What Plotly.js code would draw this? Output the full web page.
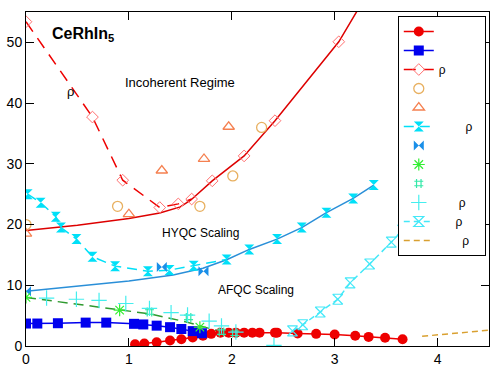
<!DOCTYPE html>
<html>
<head>
<meta charset="utf-8">
<script src="https://cdn.plot.ly/plotly-3.0.1.min.js"></script>
<style>html,body{margin:0;padding:0;background:#fff}#chart{width:500px;height:379px}</style>
</head>
<body>
<div id="chart"></div>
<script>
// ---- data ----
var redCircX = [1.06,1.15,1.27,1.40,1.51,1.62,1.72,1.80,1.89,1.97,2.04,2.12,2.20,2.27,2.42,2.44,2.64,2.82,3.00,3.20,3.33,3.49,3.66];
var redCircY = [0.3,0.4,0.6,0.9,1.1,1.4,1.7,2.0,2.2,2.2,2.2,2.2,2.2,2.2,2.2,2.2,2.05,2.0,1.9,1.7,1.5,1.35,1.1];

var blueSqX = [0.0,0.11,0.31,0.58,0.78,1.05,1.14,1.27,1.40,1.51,1.62,1.71];
var blueSqY = [3.7,3.7,3.75,3.85,3.85,3.65,3.55,3.35,3.1,2.8,2.45,2.1];

var diamDashX = [0.0,0.646,0.94,1.30,1.48,1.61];
var diamDashY = [53.4,37.7,27.3,22.8,23.4,24.2];
var diamUpX = [1.81,2.12,2.42,3.04];
var diamUpY = [27.2,31.3,37.1,50.1];

var incohLineX = [0.0,0.5,1.0,1.3,1.5,1.6,1.81,2.12,2.42,3.04,3.30];
var incohLineY = [19.0,19.9,21.0,21.9,22.9,24.0,27.2,31.3,37.1,50.1,57.5];

var orCircX = [0.0,0.89,1.69,2.01,2.29];
var orCircY = [20.0,23.0,23.0,28.0,36.0];

var orTriX = [0.0,1.0,1.32,1.73,1.97];
var orTriY = [18.5,21.7,28.9,30.8,36.1];

var cyHgX = [0.016,0.142,0.29,0.34,0.49,0.646,0.866,1.185,1.395,1.63,1.95];
var cyHgY = [25.0,23.6,21.3,19.5,17.6,14.7,13.15,12.3,12.5,13.2,14.25];

var hyqcLineX = [0.0,1.0,1.43,1.72,1.95,2.17,2.44,2.68,2.92,3.18,3.38];
var hyqcLineY = [9.0,10.7,11.7,12.8,14.2,15.9,17.6,19.5,21.95,24.3,26.5];
var hyqcMarkX = [2.17,2.44,2.68,2.92,3.18,3.38];
var hyqcMarkY = [15.9,17.6,19.5,21.95,24.3,26.5];

var bowX = [0.0,1.32,1.725];
var bowY = [9.0,13.0,12.3];

var astX = [0.0,0.91,1.69];
var astY = [8.0,5.9,3.1];

var greenLineX = [0.0,0.91,1.2,1.55,1.75,2.01];
var greenLineY = [8.0,5.9,5.3,4.0,3.0,1.8];

var hashX = [1.2,1.58,1.9,2.03];
var hashY = [5.6,4.7,2.3,2.1];

var plusX = [0.2,0.49,0.71,0.97,1.2,1.41,1.57,1.78,1.9,2.04,2.41];
var plusY = [7.9,7.7,7.5,7.0,6.2,5.5,5.1,4.1,3.3,2.3,0.1];

var openHgX = [2.59,2.69,2.86,3.03,3.15,3.34,3.55,3.66,3.85];
var openHgY = [2.5,3.5,5.6,7.7,10.4,13.5,17.1,19.1,22.5];

var orDashX = [3.85,4.17,4.5];
var orDashY = [1.6,2.05,2.6];

var legendNames = [
  "\u00a0", "\u00a0",
  "\u03c1",
  "\u00a0", "\u00a0",
  "\u00a0\u00a0\u00a0\u00a0\u00a0\u00a0\u00a0\u00a0\u03c1\u00a0\u00a0",
  "\u00a0", "\u00a0", "\u00a0",
  "\u00a0\u00a0\u00a0\u00a0\u00a0\u00a0\u03c1",
  "\u00a0\u00a0\u00a0\u00a0\u00a0\u03c1",
  "\u00a0\u00a0\u00a0\u00a0\u00a0\u00a0\u00a0\u03c1"
];

var FONT = "Liberation Sans, Arial, Helvetica, sans-serif";

var traces = [
  // helper lines (not in legend)
  {x: incohLineX, y: incohLineY, mode: 'lines', line: {color: '#dd0000', width: 1.5}, showlegend: false, hoverinfo: 'skip'},
  {x: hyqcLineX, y: hyqcLineY, mode: 'lines', line: {color: '#2a8fd8', width: 1.5}, showlegend: false, hoverinfo: 'skip'},
  {x: greenLineX, y: greenLineY, mode: 'lines', line: {color: '#2f9a2f', width: 1.5, dash: '10px,6px'}, showlegend: false, hoverinfo: 'skip'},
  {x: diamUpX, y: diamUpY, mode: 'markers', marker: {symbol: 'diamond-open', size: 9, color: '#ff7070', line: {width: 1}}, showlegend: false},
  {x: hyqcMarkX, y: hyqcMarkY, mode: 'markers', marker: {symbol: 'hourglass', size: 10, color: '#00e0f8'}, showlegend: false},

  // legend entries
  {name: legendNames[0], x: redCircX, y: redCircY, mode: 'lines+markers', line: {color: '#ee0000', width: 1.5}, marker: {symbol: 'circle', size: 10, color: '#ee0000'}},
  {name: legendNames[1], x: blueSqX, y: blueSqY, mode: 'lines+markers', line: {color: '#0000ee', width: 1.5}, marker: {symbol: 'square', size: 10, color: '#0000ee'}},
  {name: legendNames[2], x: diamDashX, y: diamDashY, mode: 'lines+markers', line: {color: '#ee0000', width: 1.5, dash: '12px,8px'}, marker: {symbol: 'diamond-open', size: 9, color: '#ff7070', line: {width: 1}}},
  {name: legendNames[3], x: orCircX, y: orCircY, mode: 'markers', marker: {symbol: 'circle-open', size: 10, color: '#e8b060', line: {width: 1.3}}},
  {name: legendNames[4], x: orTriX, y: orTriY, mode: 'markers', marker: {symbol: 'triangle-up-open', size: 10, color: '#f58050', line: {width: 1.3}}},
  {name: legendNames[5], x: cyHgX, y: cyHgY, mode: 'lines+markers', line: {color: '#00e0f8', width: 1.5, dash: '10px,6px'}, marker: {symbol: 'hourglass', size: 10, color: '#00e0f8'}},
  {name: legendNames[6], x: bowX, y: bowY, mode: 'markers', marker: {symbol: 'bowtie', size: 10, color: '#1a8fe8'}},
  {name: legendNames[7], x: astX, y: astY, mode: 'markers', marker: {symbol: 'asterisk-open', size: 10, color: '#33ee33', line: {width: 1.2}}},
  {name: legendNames[8], x: hashX, y: hashY, mode: 'markers', marker: {symbol: 'hash-open', size: 9, color: '#33e8a8', line: {width: 1.2}}},
  {name: legendNames[9], x: plusX, y: plusY, mode: 'markers', marker: {symbol: 'cross-thin-open', size: 11, color: '#44eeee', line: {width: 1.2}}},
  {name: legendNames[10], x: openHgX, y: openHgY, mode: 'lines+markers', line: {color: '#44e8f8', width: 1.5, dash: '6px,4px'}, marker: {symbol: 'hourglass-open', size: 10, color: '#44e8f8', line: {width: 1.2}}},
  {name: legendNames[11], x: orDashX, y: orDashY, mode: 'lines', line: {color: '#d9a030', width: 1.5, dash: '6px,4px'}}
];

var layout = {
  width: 500, height: 379,
  margin: {l: 26, r: 11, t: 12, b: 33, pad: 0},
  paper_bgcolor: '#ffffff', plot_bgcolor: '#ffffff',
  font: {family: FONT, size: 14, color: '#000'},
  showlegend: true,
  legend: {
    x: 0.803, xanchor: 'left', y: 0.988, yanchor: 'top',
    bgcolor: '#ffffff', bordercolor: '#000000', borderwidth: 1,
    font: {family: FONT, size: 12, color: '#000'},
    tracegroupgap: 0
  },
  xaxis: {
    range: [0, 4.5], tickvals: [0,1,2,3,4], ticktext: ['0','1','2','3','4'],
    ticks: 'inside', ticklen: 8, tickwidth: 1, tickcolor: '#000',
    showline: true, linecolor: '#000', linewidth: 1, mirror: 'ticks',
    showgrid: false, zeroline: false,
    tickfont: {family: FONT, size: 14, color: '#000'}
  },
  yaxis: {
    range: [0, 55], tickvals: [0,10,20,30,40,50], ticktext: ['0','10','20','30','40','50'],
    ticks: 'inside', ticklen: 8, tickwidth: 1, tickcolor: '#000',
    showline: true, linecolor: '#000', linewidth: 1, mirror: 'ticks',
    showgrid: false, zeroline: false,
    tickfont: {family: FONT, size: 14, color: '#000'}
  },
  annotations: [
    {x: 0.552, y: 51.35, xref: 'x', yref: 'y', text: '<b>CeRhIn<sub>5</sub></b>', showarrow: false, font: {family: FONT, size: 16, color: '#000'}},
    {x: 0.433, y: 41.9, xref: 'x', yref: 'y', text: '\u03c1', showarrow: false, font: {family: FONT, size: 13, color: '#000'}},
    {x: 1.50, y: 43.4, xref: 'x', yref: 'y', text: 'Incoherent Regime', showarrow: false, font: {family: FONT, size: 13, color: '#000'}},
    {x: 1.694, y: 18.55, xref: 'x', yref: 'y', text: 'HYQC Scaling', showarrow: false, font: {family: FONT, size: 12, color: '#000'}},
    {x: 2.238, y: 9.19, xref: 'x', yref: 'y', text: 'AFQC Scaling', showarrow: false, font: {family: FONT, size: 12, color: '#000'}}
  ]
};

Plotly.newPlot('chart', traces, layout, {staticPlot: true, displayModeBar: false});
</script>
</body>
</html>
